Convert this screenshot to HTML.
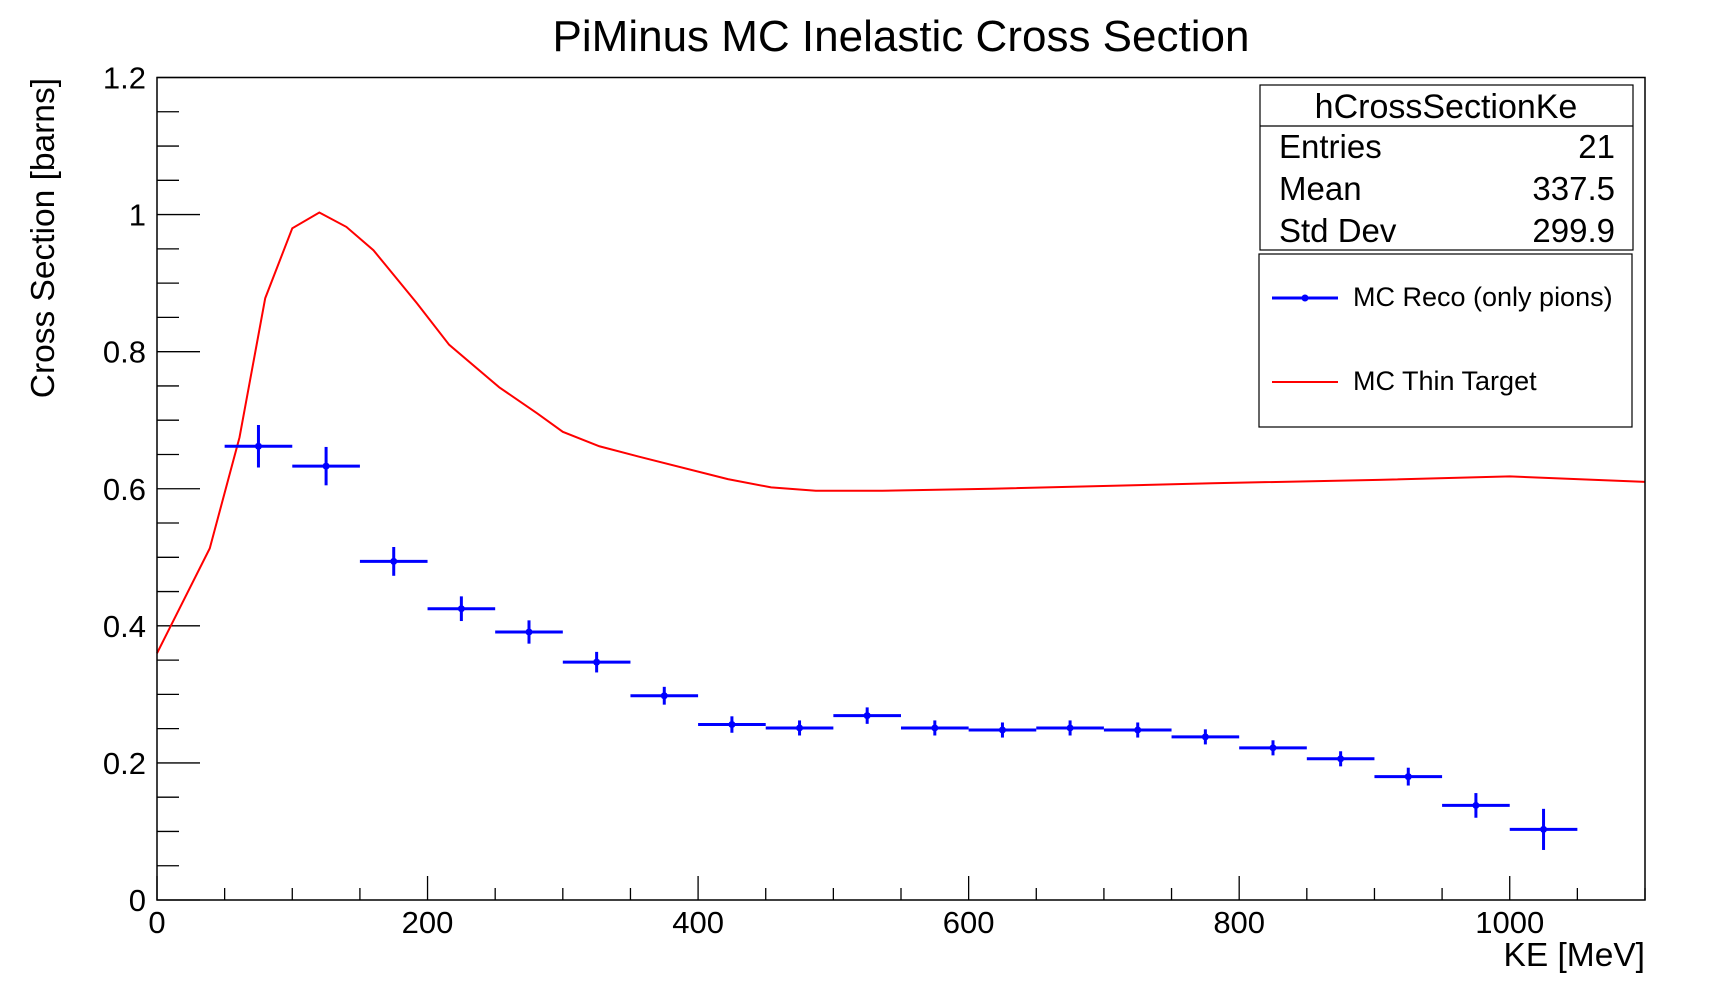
<!DOCTYPE html>
<html><head><meta charset="utf-8"><style>
body{margin:0;background:#fff;}
svg{display:block;font-family:"Liberation Sans",sans-serif;}
</style></head><body>
<svg id="chart" width="1729" height="996" xmlns="http://www.w3.org/2000/svg">
<rect width="1729" height="996" fill="#fff"/>
<text x="901" y="51" font-size="44" text-anchor="middle">PiMinus MC Inelastic Cross Section</text>
<g id="axes"></g>
<g id="red"></g>
<g id="blue"></g>
<rect x="157" y="77.5" width="1488" height="822.5" fill="none" stroke="#000" stroke-width="1.5"/>
<text x="1645" y="966" font-size="33.5" text-anchor="end">KE [MeV]</text>
<text transform="translate(54,78) rotate(-90)" font-size="33.5" text-anchor="end">Cross Section [barns]</text>
<g>
<rect x="1260" y="85" width="373" height="165" fill="#fff" stroke="#000" stroke-width="1.2"/>
<line x1="1260" y1="126" x2="1633" y2="126" stroke="#000" stroke-width="1.2"/>
<text x="1446" y="118" font-size="34" text-anchor="middle">hCrossSectionKe</text>
<text x="1279" y="158" font-size="33">Entries</text><text x="1615" y="158" font-size="33" text-anchor="end">21</text>
<text x="1279" y="200" font-size="33">Mean</text><text x="1615" y="200" font-size="33" text-anchor="end">337.5</text>
<text x="1279" y="242" font-size="33">Std Dev</text><text x="1615" y="242" font-size="33" text-anchor="end">299.9</text>
</g>
<g>
<rect x="1259" y="254" width="373" height="173" fill="#fff" stroke="#000" stroke-width="1.2"/>
<g>
<line x1="1272" y1="298" x2="1338" y2="298" stroke="#00f" stroke-width="3"/>
<circle cx="1305" cy="298" r="3.5" fill="#00f"/>
<text x="1353" y="306" font-size="27">MC Reco (only pions)</text></g>
<g>
<line x1="1272" y1="382" x2="1338" y2="382" stroke="#f00" stroke-width="2"/>
<text x="1353" y="390" font-size="27">MC Thin Target</text></g>
</g>
</svg>
<script>
const redKE=[0,39,61,80,100,120,140,160,192,216,253,281,300,327,356,422,454,487,536,617,780,903,1000,1100];
const redVal=[0.36,0.513,0.675,0.878,0.98,1.003,0.982,0.948,0.871,0.81,0.748,0.71,0.683,0.662,0.647,0.614,0.602,0.597,0.597,0.600,0.608,0.613,0.618,0.610];
const binCenters=[75,125,175,225,275,325,375,425,475,525,575,625,675,725,775,825,875,925,975,1025];
const recoVal=[0.662,0.633,0.494,0.425,0.391,0.347,0.298,0.256,0.251,0.269,0.251,0.248,0.251,0.248,0.238,0.222,0.206,0.180,0.138,0.103];
const recoErr=[0.031,0.028,0.021,0.018,0.017,0.015,0.013,0.012,0.011,0.012,0.011,0.011,0.011,0.011,0.011,0.011,0.011,0.013,0.018,0.030];
const xTicks=[0,200,400,600,800,1000];
const yTicks=[0,0.2,0.4,0.6,0.8,1,1.2];
const yTickLabels=["0","0.2","0.4","0.6","0.8","1","1.2"];
const NS="http://www.w3.org/2000/svg";
const X=v=>157+v*1488/1100, Y=v=>900-v*822.5/1.2;
function mk(tag,attrs,parent){const e=document.createElementNS(NS,tag);for(const k in attrs)e.setAttribute(k,attrs[k]);parent.appendChild(e);return e;}
const ax=document.getElementById('axes');
for(let v=0;v<=1100;v+=50){const maj=v%200===0;const t=mk('line',{x1:X(v),x2:X(v),y1:900,y2:900-(maj?24:12),stroke:'#000','stroke-width':1.3},ax);

}
for(let i=0;i<=24;i++){const v=i*0.05;const maj=i%4===0;const t=mk('line',{x1:157,x2:157+(maj?43:22),y1:Y(v),y2:Y(v),stroke:'#000','stroke-width':1.3},ax);

}
xTicks.forEach(v=>{const t=mk('text',{x:X(v),y:933,'font-size':31,'text-anchor':'middle'},ax);t.textContent=String(v);

});
yTicks.forEach((v,i)=>{const t=mk('text',{x:146,y:Y(v)+11,'font-size':31,'text-anchor':'end'},ax);t.textContent=yTickLabels[i];

});
const rp=mk('polyline',{points:redKE.map((k,i)=>X(k)+','+Y(redVal[i])).join(' '),fill:'none',stroke:'#f00','stroke-width':2},document.getElementById('red'));


const bg=document.getElementById('blue');
binCenters.forEach((c,i)=>{const g=mk('g',{},bg);


mk('line',{x1:X(c-25),x2:X(c+25),y1:Y(recoVal[i]),y2:Y(recoVal[i]),stroke:'#00f','stroke-width':3},g);
mk('line',{x1:X(c),x2:X(c),y1:Y(recoVal[i]-recoErr[i]),y2:Y(recoVal[i]+recoErr[i]),stroke:'#00f','stroke-width':3},g);
mk('circle',{cx:X(c),cy:Y(recoVal[i]),r:3.5,fill:'#00f'},g);});
</script>
</body></html>
